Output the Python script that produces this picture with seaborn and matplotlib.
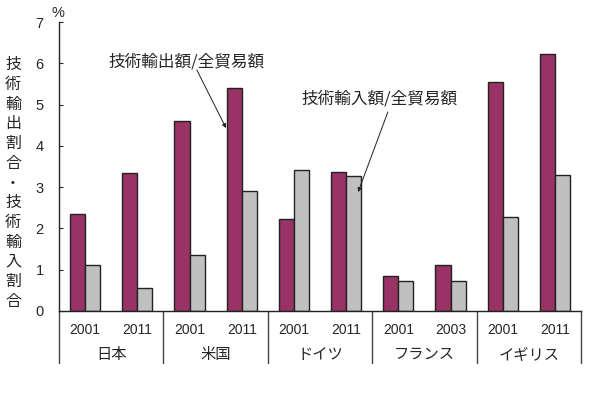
import matplotlib.pyplot as plt
import seaborn as sns
import pandas as pd

countries = ["日本", "米国", "ドイツ", "フランス", "イギリス"]
years = ["2001", "2011", "2001", "2011", "2001", "2011", "2001", "2003", "2001", "2011"]
export_share = [2.36, 3.34, 4.61, 5.39, 2.23, 3.37, 0.84, 1.11, 5.54, 6.22]
import_share = [1.11, 0.55, 1.36, 2.90, 3.41, 3.26, 0.73, 0.72, 2.28, 3.29]
series = ["技術輸出額/全貿易額", "技術輸入額/全貿易額"]

slots = [f"{countries[i // 2]}{years[i]}" for i in range(len(years))]
df = pd.DataFrame({
    "slot": slots * 2,
    "value": export_share + import_share,
    "series": [series[0]] * len(slots) + [series[1]] * len(slots),
})

sns.set_style("white")
plt.rcParams['font.family'] = ['Noto Sans CJK JP', 'DejaVu Sans']
num_font = ['Liberation Sans', 'DejaVu Sans']

fig = plt.figure(figsize=(6, 3.94), dpi=100)
ax = fig.add_axes([59 / 600, 83 / 394, 522 / 600, 289 / 394])
sns.barplot(data=df, x="slot", y="value", hue="series", order=slots, hue_order=series,
            palette=["#993366", "#C0C0C0"], saturation=1, width=0.575, gap=0,
            edgecolor="#222222", linewidth=1, legend=False, ax=ax)

ax.set_xlim(-0.5, len(slots) - 0.5)
ax.set_ylim(0, 7)
ax.set_yticks(range(8))
ax.set_xticks(range(len(slots)))
ax.set_xticklabels(years, fontsize=10, family=num_font)
ax.set_yticklabels([str(v) for v in range(8)], fontsize=10.5, family=num_font)
ax.tick_params(axis="x", length=0, pad=9)
ax.tick_params(axis="y", direction="in", length=3, width=0.8, pad=11, left=True)
ax.set_xlabel("")
ax.set_ylabel("")
for s in ["top", "right"]:
    ax.spines[s].set_visible(False)
for s in ["left", "bottom"]:
    ax.spines[s].set_color("#222222")
    ax.spines[s].set_linewidth(1)

# group separators and country labels under the axis
for k in range(len(countries) + 1):
    ax.plot([k * 2 - 0.5] * 2, [0, -0.18], transform=ax.get_xaxis_transform(),
            color="#444444", lw=1, clip_on=False)
for k, c in enumerate(countries):
    ax.text(k * 2 + 0.5, -0.149, c, transform=ax.get_xaxis_transform(),
            ha="center", va="center", fontsize=11)

fig.text(13 / 600, 1 - 183 / 394, "\n".join("技術輸出割合・技術輸入割合"), ha="center", va="center",
         fontsize=11.5, linespacing=1.21)
fig.text(58 / 600, 1 - 13 / 394, "%", ha="center", va="center", fontsize=10.5, family=num_font)

# labels with pointer arrows
arrow = dict(arrowstyle="-|>", color="#222222", lw=0.7, mutation_scale=6, shrinkA=0, shrinkB=0)
ax.text(1.94, 6.03, series[0], fontsize=12, ha="center", va="center")
ax.annotate("", xy=(2.70, 4.43), xytext=(2.14, 5.84), arrowprops=arrow)
ax.text(5.64, 5.13, series[1], fontsize=12, ha="center", va="center")
ax.annotate("", xy=(5.23, 2.88), xytext=(5.80, 4.82), arrowprops=arrow)

plt.savefig("out.png", dpi=100)
